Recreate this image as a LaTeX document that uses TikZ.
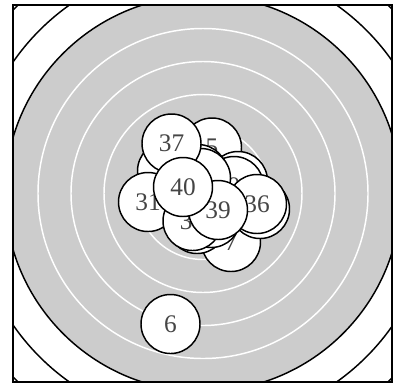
\documentclass[tikz,border=0pt]{standalone}
\usepackage{fontspec}
\setmainfont{Liberation Serif}
\usepackage{xcolor}
\definecolor{targetgray}{gray}{0.8}
\definecolor{shotgray}{gray}{0.27}

\begin{document}
\begin{tikzpicture}[x=0.75pt, y=-0.75pt,
    shot/.style={circle, draw=black, line width=1.1pt, fill=white, minimum size=44.25pt, inner sep=0pt, text=shotgray, font=\fontsize{19}{22}\selectfont},
    ring/.style={line width=1.1pt}]
        \useasboundingbox (0,0) rectangle (395,383);
        \coordinate (centre) at (203,193.5);

        % Target face, cut to the frame
        \begin{scope}
            \clip (13,5) rectangle (392,382);
            \fill[targetgray] (centre) circle[radius=198];
            \foreach \r in {33,66,99,132,165}
                \draw[ring, white] (centre) circle[radius=\r];
            \foreach \r in {198,231,264}
                \draw[ring, black] (centre) circle[radius=\r];
        \end{scope}

        % Frame
        \draw[line width=1.5pt] (13,5) rectangle (392,382);

        % Shots, in the order they were fired
        \node[shot] (s5) at (212,147.5) {5};
        \node[shot] (s6) at (170.5,324) {6};
        \node[shot] (s7) at (231,242) {7};
        \node[shot] (sd) at (238,181) {};
        \node[shot] (s9) at (234,186) {9};
        \node[shot] (sa) at (167,171) {};
        \node[shot] (se) at (260,209) {};
        \node[shot] (sb) at (198,174) {};
        \node[shot] (sc) at (201,178) {};
        \node[shot] (sf) at (197,224) {};
        \node[shot] (sg) at (211,218) {};
        \node[shot] (s31) at (148,202) {31};
        \node[shot] (s34) at (192.5,221) {34};
        \node[shot] (s36) at (257,204) {36};
        \node[shot] (s37) at (171.5,143.5) {37};
        \node[shot] (s39) at (218,210) {39};
        \node[shot] (s40) at (183,187) {40};
\end{tikzpicture}
\end{document}
